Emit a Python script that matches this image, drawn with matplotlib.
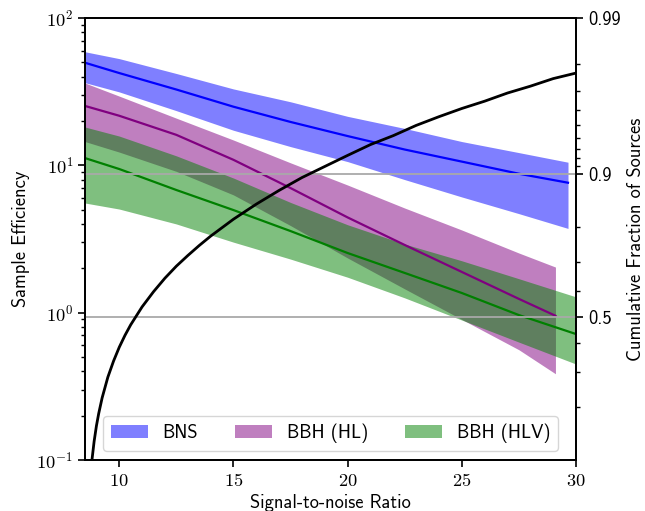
import math
import matplotlib
matplotlib.use("Agg")
import matplotlib.pyplot as plt
from matplotlib.ticker import FuncFormatter, NullFormatter, LogLocator

plt.rcParams['mathtext.fontset'] = 'cm'
plt.rcParams['font.family'] = ['cmss10', 'DejaVu Sans']
plt.rcParams['axes.linewidth'] = 1.3
plt.rcParams['axes.formatter.use_mathtext'] = True

FS = 13.3

# ---- data ----
snr_bns = [8.5, 10, 12.5, 15, 17.5, 20, 22.5, 25, 27.5, 29.65]
bns_med = [49.7, 42.3, 32.7, 25.0, 19.7, 15.8, 12.8, 10.6, 8.77, 7.62]
bns_hi = [59, 53, 42, 33, 27, 21.5, 17.8, 14.5, 12.2, 10.5]
bns_lo = [36.4, 31.5, 23.5, 17.3, 13.4, 10.6, 8.0, 6.1, 4.7, 3.73]

snr_hl = [8.5, 10, 12.5, 15, 17.5, 20, 22.5, 25, 27.5, 29.1]
hl_med = [25.3, 21.7, 16.1, 10.9, 7.01, 4.43, 2.88, 1.89, 1.24, 0.953]
hl_hi = [36.2, 29.5, 20.9, 14.85, 10.4, 7.35, 5.13, 3.64, 2.54, 2.04]
hl_lo = [14.5, 12.3, 9.1, 6.3, 3.9, 2.35, 1.45, 0.90, 0.56, 0.385]

snr_hlv = [8.5, 10, 12.5, 15, 17.5, 20, 22.5, 25, 27.5, 30]
hlv_med = [11.2, 9.44, 6.80, 4.97, 3.58, 2.54, 1.86, 1.36, 0.963, 0.716]
hlv_hi = [18.2, 15.8, 11.6, 8.2, 5.6, 3.95, 2.92, 2.25, 1.70, 1.28]
hlv_lo = [5.55, 5.05, 4.0, 3.01, 2.31, 1.74, 1.26, 0.891, 0.631, 0.448]

snr_cum = [8.6, 8.7, 8.8, 8.9, 9.0, 9.1, 9.25, 9.5, 9.75, 10, 10.25, 10.5, 11,
           11.5, 12, 12.5, 13, 13.5, 14, 15, 16, 17, 18, 19, 20, 21, 22, 23,
           24, 25, 26, 27, 28, 29, 30]
cum_frac = [0.0345, 0.0674, 0.0988, 0.129, 0.158, 0.185, 0.224, 0.284, 0.337,
            0.386, 0.430, 0.470, 0.539, 0.596, 0.645, 0.686, 0.720, 0.750,
            0.776, 0.818, 0.850, 0.875, 0.895, 0.910, 0.923, 0.934, 0.942,
            0.950, 0.956, 0.961, 0.965, 0.969, 0.972, 0.975, 0.977]

ref_fracs = [0.9, 0.5]
right_major = [0.5, 0.9, 0.99]
right_major_labels = ['0.5', '0.9', '0.99']
right_minor = [0.2, 0.3, 0.4, 0.6, 0.7, 0.8, 0.91, 0.92, 0.93, 0.94, 0.95,
               0.96, 0.97, 0.98]
x_ticks = [10, 15, 20, 25, 30]

# ---- figure ----
fig = plt.figure(figsize=(6.45, 5.11), dpi=100)
ax = fig.add_axes([85/645, 1-460/511, (576-85)/645, (460-18)/511])

ax.fill_between(snr_bns, bns_lo, bns_hi, color='blue', alpha=0.5, lw=0, label='BNS')
ax.fill_between(snr_hl, hl_lo, hl_hi, color='purple', alpha=0.5, lw=0, label='BBH (HL)')
ax.fill_between(snr_hlv, hlv_lo, hlv_hi, color='green', alpha=0.5, lw=0, label='BBH (HLV)')
ax.plot(snr_bns, bns_med, color='blue', lw=1.6)
ax.plot(snr_hl, hl_med, color='purple', lw=1.6)
ax.plot(snr_hlv, hlv_med, color='green', lw=1.6)

ax.set_yscale('log')
ax.set_ylim(0.1, 100)
ax.set_xlim(8.5, 30)
ax.set_xticks(x_ticks)
ax.xaxis.set_major_formatter(FuncFormatter(lambda v, p: r'$%d$' % round(v)))
ax.yaxis.set_major_locator(LogLocator(base=10, numticks=10))
ax.yaxis.set_major_formatter(FuncFormatter(
    lambda v, p: r'$10^{%d}$' % round(math.log10(v))))
ax.yaxis.set_minor_formatter(NullFormatter())
ax.tick_params(axis='both', which='major', labelsize=FS, length=5, width=1.2)
ax.tick_params(axis='both', which='minor', length=3, width=1.0)
ax.set_xlabel('Signal-to-noise Ratio', fontsize=FS, labelpad=3)
ax.set_ylabel('Sample Efficiency', fontsize=FS, labelpad=5)

leg = ax.legend(loc='lower center', ncol=3, fontsize=FS, borderaxespad=0.5,
                columnspacing=2.0, handlelength=2.0)

ax2 = ax.twinx()
for f in ref_fracs:
    ax2.axhline(f, color='darkgray', lw=1.3)
ax2.plot(snr_cum, cum_frac, color='black', lw=2.0)
ax2.set_yscale('logit')
ax2.set_ylim(0.1, 0.99)
ax2.set_yticks(right_major)
ax2.set_yticklabels(right_major_labels)
ax2.set_yticks(right_minor, minor=True)
ax2.yaxis.set_minor_formatter(NullFormatter())
ax2.tick_params(axis='y', which='major', labelsize=FS, length=5, width=1.2)
ax2.tick_params(axis='y', which='minor', length=3, width=1.0)
ax2.set_ylabel('Cumulative Fraction of Sources', fontsize=FS, labelpad=5)
ax2.set_xlim(8.5, 30)

fig.savefig('out.png', dpi=100)
